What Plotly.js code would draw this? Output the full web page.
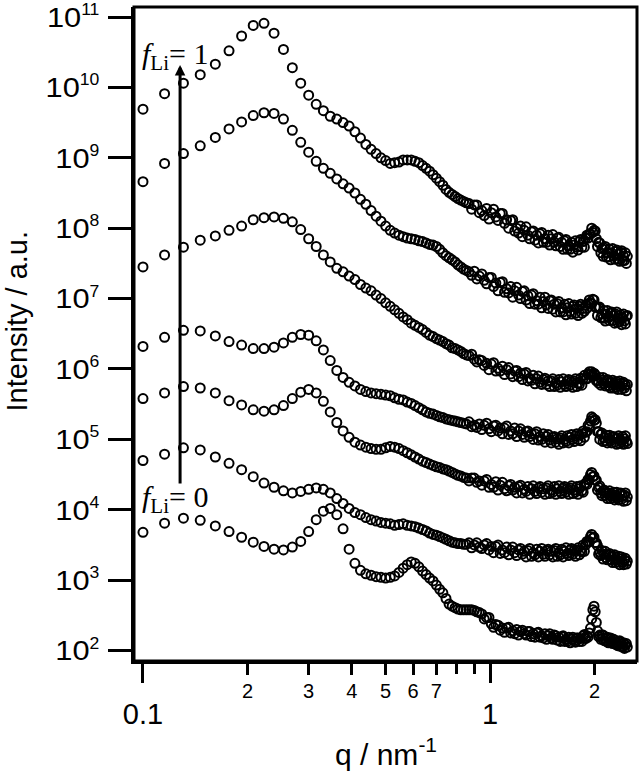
<!DOCTYPE html>
<html>
<head>
<meta charset="utf-8">
<script src="https://cdn.plot.ly/plotly-3.0.1.min.js"></script>
<style>
html,body{margin:0;padding:0;background:#fff;}
#chart{width:640px;height:771px;}
#chart g.ytick{transform-box:fill-box;transform-origin:100% 50%;transform:scaleX(1.1);}
</style>
</head>
<body>
<div id="chart"></div>
<script>
// q values (nm^-1), shared by all seven curves
const q = [
0.1000,0.1154,0.1308,0.1462,0.1616,0.1770,0.1924,0.2078,0.2232,0.2386,
0.2540,0.2694,0.2848,0.3002,0.3156,0.3310,0.3464,0.3618,0.3772,0.3926,
0.4080,0.4234,0.4388,0.4542,0.4696,0.4850,0.5004,0.5158,0.5312,0.5466,
0.5620,0.5774,0.5928,0.6082,0.6236,0.6390,0.6544,0.6698,0.6852,0.7006,
0.7160,0.7314,0.7468,0.7622,0.7776,0.7930,0.8084,0.8238,0.8392,0.8546,
0.8700,0.8854,0.9008,0.9162,0.9316,0.9470,0.9624,0.9778,0.9932,1.0086,
1.0240,1.0394,1.0548,1.0702,1.0856,1.1010,1.1164,1.1318,1.1472,1.1626,
1.1780,1.1934,1.2088,1.2242,1.2396,1.2550,1.2704,1.2858,1.3012,1.3166,
1.3320,1.3474,1.3628,1.3782,1.3936,1.4090,1.4244,1.4398,1.4552,1.4706,
1.4860,1.5014,1.5168,1.5322,1.5476,1.5630,1.5784,1.5938,1.6092,1.6246,
1.6400,1.6554,1.6708,1.6862,1.7016,1.7170,1.7324,1.7478,1.7632,1.7786,
1.7940,1.8094,1.8248,1.8402,1.8556,1.8710,1.8864,1.9018,1.9172,1.9326,
1.9480,1.9634,1.9788,1.9942,2.0096,2.0250,2.0404,2.0558,2.0712,2.0866,
2.1020,2.1174,2.1328,2.1482,2.1636,2.1790,2.1944,2.2098,2.2252,2.2406,
2.2560,2.2714,2.2868,2.3022,2.3176,2.3330,2.3484,2.3638,2.3792,2.3946,
2.4100,2.4254,2.4408,2.4562,2.4716,2.4870
];

// Intensity, stored as log10(Intensity / a.u.)
// curve 1 (top, f_Li = 1)
const log10I_curve1 = [
9.69,9.91,10.06,10.18,10.33,10.52,10.73,10.88,10.91,10.77,
10.54,10.28,10.06,9.89,9.76,9.67,9.59,9.55,9.50,9.45,
9.37,9.28,9.19,9.12,9.06,9.00,8.96,8.92,8.93,8.94,
8.97,8.97,8.97,8.95,8.93,8.89,8.85,8.81,8.76,8.71,
8.66,8.61,8.55,8.51,8.48,8.45,8.42,8.40,8.38,8.36,
8.35,8.27,8.33,8.33,8.22,8.25,8.18,8.28,8.13,8.22,
8.27,8.16,8.11,8.21,8.21,8.07,8.12,8.00,8.11,8.12,
7.96,8.00,7.93,8.03,7.88,7.97,8.02,7.90,7.85,7.95,
7.96,7.83,7.90,7.79,7.92,7.94,7.80,7.85,7.80,7.90,
7.76,7.85,7.91,7.80,7.75,7.86,7.87,7.74,7.80,7.70,
7.82,7.84,7.70,7.75,7.70,7.80,7.66,7.76,7.82,7.73,
7.69,7.81,7.84,7.73,7.81,7.73,7.86,7.90,7.86,7.92,
7.92,8.00,7.94,7.97,7.96,7.85,7.74,7.80,7.79,7.65,
7.71,7.60,7.72,7.74,7.59,7.65,7.59,7.70,7.55,7.65,
7.71,7.60,7.56,7.67,7.69,7.56,7.63,7.53,7.66,7.68,
7.54,7.60,7.54,7.65,7.50,7.60
];
// curve 2
const log10I_curve2 = [
8.66,8.92,9.06,9.17,9.29,9.41,9.51,9.60,9.64,9.63,
9.55,9.39,9.22,9.08,8.95,8.85,8.78,8.70,8.63,8.57,
8.50,8.41,8.34,8.25,8.17,8.10,8.03,7.97,7.93,7.90,
7.88,7.86,7.85,7.84,7.82,7.81,7.79,7.77,7.76,7.74,
7.70,7.65,7.61,7.58,7.55,7.52,7.48,7.45,7.42,7.40,
7.38,7.33,7.39,7.28,7.32,7.35,7.26,7.21,7.30,7.30,
7.17,7.22,7.11,7.23,7.24,7.09,7.14,7.08,7.17,7.02,
7.11,7.16,7.05,7.00,7.10,7.11,6.98,7.04,6.93,7.05,
7.07,6.92,6.97,6.92,7.02,6.87,6.96,7.02,6.91,6.86,
6.97,6.98,6.85,6.92,6.81,6.93,6.96,6.81,6.87,6.81,
6.92,6.77,6.87,6.93,6.82,6.78,6.89,6.91,6.79,6.86,
6.76,6.89,6.92,6.79,6.86,6.82,6.91,6.86,6.93,6.98,
6.94,6.93,6.99,6.98,6.88,6.88,6.76,6.87,6.88,6.73,
6.78,6.72,6.83,6.68,6.78,6.83,6.73,6.69,6.79,6.81,
6.69,6.76,6.65,6.78,6.81,6.66,6.72,6.67,6.77,6.63,
6.73,6.78,6.68,6.64,6.75,6.76
];
// curve 3
const log10I_curve3 = [
7.45,7.62,7.73,7.83,7.89,7.97,8.03,8.12,8.15,8.16,
8.14,8.09,7.98,7.85,7.74,7.62,7.52,7.43,7.38,7.32,
7.27,7.20,7.15,7.11,7.05,7.00,6.94,6.89,6.84,6.79,
6.74,6.70,6.65,6.62,6.59,6.56,6.52,6.48,6.46,6.43,
6.41,6.39,6.36,6.34,6.30,6.29,6.27,6.25,6.22,6.20,
6.19,6.21,6.14,6.10,6.13,6.12,6.05,6.08,5.99,6.07,
6.09,5.97,6.01,5.97,6.04,5.92,5.99,6.02,5.93,5.89,
5.97,5.98,5.89,5.94,5.85,5.93,5.95,5.83,5.87,5.84,
5.91,5.79,5.86,5.90,5.81,5.78,5.85,5.87,5.78,5.83,
5.75,5.83,5.86,5.75,5.80,5.77,5.85,5.74,5.82,5.86,
5.78,5.75,5.83,5.85,5.77,5.82,5.74,5.83,5.86,5.75,
5.80,5.78,5.87,5.77,5.86,5.91,5.86,5.86,5.93,5.96,
5.92,5.96,5.91,5.94,5.92,5.83,5.84,5.80,5.88,5.77,
5.84,5.88,5.79,5.76,5.83,5.85,5.76,5.81,5.73,5.81,
5.84,5.73,5.77,5.74,5.82,5.71,5.79,5.83,5.75,5.71,
5.79,5.81,5.73,5.77,5.69,5.78
];
// curve 4
const log10I_curve4 = [
6.32,6.45,6.55,6.54,6.47,6.39,6.34,6.29,6.29,6.31,
6.37,6.45,6.49,6.48,6.40,6.27,6.12,5.98,5.88,5.81,
5.76,5.71,5.68,5.66,5.65,5.64,5.63,5.62,5.59,5.57,
5.56,5.53,5.51,5.48,5.45,5.42,5.39,5.37,5.36,5.34,
5.32,5.31,5.29,5.28,5.27,5.26,5.25,5.24,5.23,5.22,
5.25,5.18,5.20,5.17,5.22,5.14,5.20,5.23,5.15,5.11,
5.19,5.20,5.12,5.16,5.08,5.16,5.19,5.07,5.12,5.08,
5.16,5.04,5.12,5.15,5.07,5.03,5.11,5.12,5.04,5.08,
5.00,5.08,5.11,4.99,5.04,5.00,5.08,4.96,5.04,5.07,
4.99,4.95,5.03,5.04,4.96,5.01,4.93,5.02,5.05,4.95,
5.00,4.97,5.05,4.95,5.03,5.07,5.00,4.97,5.05,5.08,
5.00,5.06,4.98,5.08,5.12,5.03,5.10,5.11,5.20,5.18,
5.26,5.32,5.30,5.27,5.28,5.23,5.11,5.11,5.00,5.07,
5.09,4.97,5.02,4.98,5.06,4.95,5.02,5.06,4.98,4.95,
5.03,5.04,4.96,5.01,4.93,5.02,5.05,4.94,4.99,4.96,
5.04,4.93,5.01,5.05,4.97,4.94
];
// curve 5
const log10I_curve5 = [
5.58,5.66,5.75,5.73,5.66,5.55,5.49,5.42,5.40,5.42,
5.48,5.58,5.67,5.71,5.66,5.54,5.39,5.24,5.12,5.03,
4.96,4.92,4.89,4.87,4.86,4.86,4.88,4.90,4.89,4.87,
4.84,4.81,4.78,4.75,4.72,4.69,4.67,4.65,4.63,4.61,
4.60,4.58,4.57,4.55,4.53,4.51,4.49,4.48,4.46,4.45,
4.41,4.45,4.45,4.39,4.41,4.35,4.41,4.43,4.32,4.36,
4.32,4.40,4.28,4.35,4.39,4.30,4.27,4.34,4.36,4.28,
4.32,4.24,4.33,4.35,4.24,4.29,4.26,4.33,4.22,4.30,
4.34,4.26,4.23,4.31,4.33,4.25,4.30,4.22,4.31,4.34,
4.23,4.28,4.25,4.33,4.22,4.30,4.34,4.26,4.23,4.31,
4.33,4.25,4.30,4.22,4.31,4.34,4.23,4.28,4.25,4.33,
4.22,4.30,4.34,4.27,4.25,4.35,4.38,4.36,4.43,4.42,
4.50,4.53,4.47,4.48,4.42,4.42,4.28,4.32,4.34,4.24,
4.20,4.27,4.28,4.20,4.24,4.16,4.24,4.27,4.16,4.20,
4.17,4.25,4.14,4.21,4.25,4.17,4.14,4.22,4.24,4.15,
4.20,4.12,4.21,4.24,4.13,4.18
];
// curve 6
const log10I_curve6 = [
4.70,4.79,4.88,4.85,4.75,4.66,4.57,4.47,4.38,4.32,
4.27,4.24,4.26,4.29,4.31,4.29,4.24,4.16,4.09,4.02,
3.96,3.93,3.89,3.86,3.84,3.82,3.81,3.80,3.78,3.79,
3.80,3.78,3.77,3.76,3.74,3.72,3.70,3.67,3.65,3.64,
3.62,3.60,3.58,3.56,3.54,3.53,3.52,3.52,3.51,3.51,
3.53,3.46,3.50,3.53,3.47,3.45,3.50,3.52,3.43,3.48,
3.39,3.48,3.50,3.38,3.43,3.39,3.47,3.36,3.43,3.47,
3.39,3.35,3.43,3.45,3.37,3.41,3.33,3.42,3.45,3.34,
3.39,3.36,3.44,3.33,3.41,3.45,3.37,3.34,3.42,3.44,
3.36,3.41,3.33,3.42,3.45,3.34,3.39,3.36,3.44,3.33,
3.41,3.46,3.38,3.35,3.43,3.45,3.37,3.42,3.34,3.43,
3.46,3.36,3.42,3.40,3.50,3.41,3.50,3.55,3.54,3.55,
3.62,3.65,3.60,3.61,3.53,3.53,3.49,3.37,3.40,3.35,
3.42,3.30,3.37,3.41,3.32,3.29,3.36,3.38,3.29,3.34,
3.25,3.34,3.36,3.25,3.29,3.26,3.34,3.22,3.30,3.33,
3.25,3.22,3.29,3.31,3.23,3.27
];
// curve 7 (bottom, f_Li = 0)
const log10I_curve7 = [
3.68,3.81,3.88,3.85,3.77,3.69,3.61,3.54,3.48,3.44,
3.43,3.47,3.55,3.69,3.86,3.98,4.02,3.93,3.73,3.44,
3.24,3.14,3.09,3.07,3.05,3.04,3.03,3.04,3.06,3.11,
3.17,3.22,3.26,3.24,3.19,3.13,3.08,3.03,2.99,2.93,
2.87,2.82,2.74,2.66,2.63,2.61,2.59,2.58,2.58,2.58,
2.58,2.58,2.57,2.55,2.54,2.52,2.45,2.47,2.47,2.38,
2.33,2.37,2.36,2.29,2.32,2.26,2.32,2.33,2.25,2.28,
2.24,2.30,2.22,2.27,2.29,2.24,2.22,2.27,2.27,2.20,
2.24,2.19,2.25,2.26,2.19,2.21,2.18,2.24,2.16,2.21,
2.24,2.18,2.16,2.22,2.21,2.15,2.19,2.13,2.20,2.21,
2.13,2.16,2.13,2.19,2.11,2.16,2.19,2.14,2.12,2.18,
2.18,2.13,2.17,2.13,2.21,2.23,2.17,2.21,2.19,2.25,
2.32,2.45,2.58,2.63,2.55,2.40,2.28,2.20,2.22,2.16,
2.22,2.22,2.14,2.17,2.13,2.19,2.11,2.16,2.18,2.13,
2.10,2.16,2.15,2.09,2.12,2.07,2.13,2.14,2.06,2.09,
2.05,2.11,2.03,2.08,2.10,2.05
];

// tick labels
const yTickVals = [1e2,1e3,1e4,1e5,1e6,1e7,1e8,1e9,1e10,1e11];
const yTickExp = ['2','3','4','5','6','7','8','9','10','11'];
const yTickText = yTickExp.map(e => '10<sup><span style="font-size:16px">' + e + '</span></sup>');
const xSmallTickVals = [0.2,0.3,0.4,0.5,0.6,0.7,2];
const xSmallTickText = ['2','3','4','5','6','7','2'];
const xBigTickVals = [0.1,1];
const xBigTickText = ['0.1','1'];
const xBareTickVals = [0.8,0.9];

const curves = [log10I_curve1,log10I_curve2,log10I_curve3,log10I_curve4,log10I_curve5,log10I_curve6,log10I_curve7];

// the last curve is bound to the overlaid twin x axis (same range), so that axis is drawn
const traces = curves.map((c, i) => ({
  type:'scatter', mode:'markers',
  x:q, y:c.map(v => Math.pow(10, v)),
  xaxis: i === curves.length - 1 ? 'x2' : 'x', yaxis:'y',
  marker:{symbol:'circle-open', size:9, color:'#000', line:{width:2, color:'#000'}},
  hoverinfo:'skip'
}));

const XR = [-1.0259, 0.4236];
const YR = [1.852, 11.142];
const serif = '"Liberation Serif", "Times New Roman", serif';
const sans = '"Liberation Sans", Arial, sans-serif';

const layout = {
  width:640, height:771,
  margin:{l:134, r:3, t:7, b:110, pad:0},
  paper_bgcolor:'#fff', plot_bgcolor:'#fff',
  showlegend:false,
  font:{family:sans, color:'#000'},
  xaxis:{
    type:'log', range:XR, tickmode:'array', tickvals:xSmallTickVals, ticktext:xSmallTickText,
    ticks:'outside', ticklen:11, tickwidth:3, tickcolor:'#000', tickfont:{size:20},
    ticklabelstandoff:-1, ticklabeloverflow:'allow',
    showgrid:false, zeroline:false, showline:true, linewidth:3, linecolor:'#000',
    minor:{tickmode:'array', tickvals:xBareTickVals, ticks:'outside', ticklen:10, tickwidth:3, tickcolor:'#000', showgrid:false}
  },
  xaxis2:{
    type:'log', overlaying:'x', anchor:'y', side:'bottom', range:XR,
    tickmode:'array', tickvals:xBigTickVals, ticktext:xBigTickText,
    ticks:'outside', ticklen:21, tickwidth:3, tickcolor:'#000', tickfont:{size:29},
    ticklabelstandoff:6, ticklabeloverflow:'allow',
    showgrid:false, zeroline:false, showline:false
  },
  yaxis:{
    type:'log', range:YR, tickmode:'array', tickvals:yTickVals, ticktext:yTickText,
    ticks:'outside', ticklen:23, tickwidth:3, tickcolor:'#000', tickfont:{size:28},
    ticklabelstandoff:3, ticklabeloverflow:'allow',
    showgrid:false, zeroline:false, showline:true, linewidth:3, linecolor:'#000'
  },
  shapes:[
    {type:'rect', xref:'paper', yref:'paper', x0:0, x1:1, y0:0, y1:1,
     line:{width:3, color:'#000'}, fillcolor:'rgba(0,0,0,0)', layer:'above'}
  ],
  annotations:[
    // axis titles
    {xref:'paper', yref:'paper', x:0.5, y:-0.1398, xanchor:'center', yanchor:'middle', showarrow:false,
     text:'q / nm<sup>-1</sup>', font:{family:sans, size:30, color:'#000'}},
    {xref:'paper', yref:'paper', x:-0.2336, y:0.5199, xanchor:'center', yanchor:'middle', showarrow:false,
     textangle:-90, text:'Intensity / a.u.', font:{family:sans, size:29, color:'#000'}},
    // arrow and labels
    {xref:'x', yref:'y', axref:'x', ayref:'y', x:-0.8931, y:10.318, ax:-0.8931, ay:4.352,
     text:'', showarrow:true, arrowhead:2, arrowsize:0.7, arrowwidth:3, arrowcolor:'#000', standoff:0, startstandoff:0},
    {xref:'x', yref:'y', x:-1.0086, y:10.45, xanchor:'left', yanchor:'middle', showarrow:false,
     text:'<i>f</i><sub>Li</sub>= 1', font:{family:serif, size:30, color:'#000'}},
    {xref:'x', yref:'y', x:-1.0086, y:4.16, xanchor:'left', yanchor:'middle', showarrow:false,
     text:'<i>f</i><sub>Li</sub>= 0', font:{family:serif, size:30, color:'#000'}}
  ]
};

Plotly.newPlot('chart', traces, layout, {displayModeBar:false, staticPlot:true});
</script>
</body>
</html>
